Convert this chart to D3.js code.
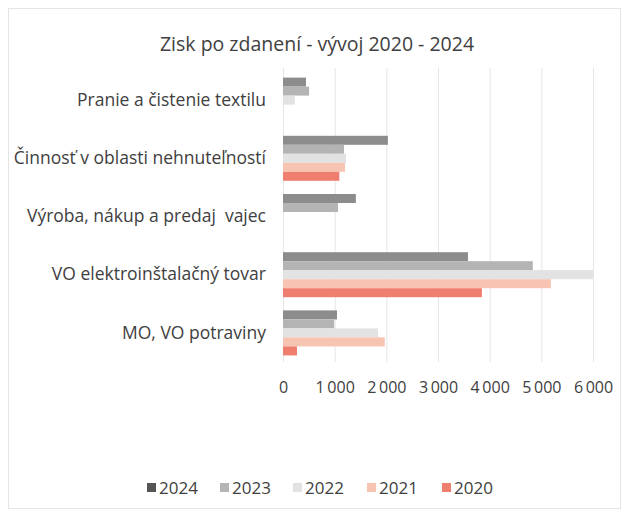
<!DOCTYPE html>
<html>
<head>
<meta charset="utf-8">
<script src="https://cdn.jsdelivr.net/npm/d3@7"></script>
<style>
	body { margin: 0; background: #fff; }
	svg text { font-family: "Open Sans", sans-serif; fill: #404040; white-space: pre; }
</style>
</head>
<body>
<svg id="chart" width="625" height="509"></svg>
<script>
const categories = ['Pranie a čistenie textilu', 'Činnosť v oblasti nehnuteľností', 'Výroba, nákup a predaj  vajec', 'VO elektroinštalačný tovar', 'MO, VO potraviny'];
const years = ['2024', '2023', '2022', '2021', '2020'];
const yearColors = ['#8c8c8c', '#b4b4b4', '#e2e2e2', '#f8c4b2', '#f07e6e'];
const values2024 = [445, 2030, 1410, 3580, 1045];
const values2023 = [505, 1180, 1065, 4835, 990];
const values2022 = [230, 1220, 0, 6000, 1840];
const values2021 = [0, 1200, 0, 5185, 1970];
const values2020 = [0, 1090, 0, 3850, 270];
const tickValues = [0, 1000, 2000, 3000, 4000, 5000, 6000];

const seriesValues = [values2024, values2023, values2022, values2021, values2020];

const svg = d3.select('#chart');

// outer frame
svg.append('rect')
	.attr('x', 8.5).attr('y', 8.5)
	.attr('width', 612).attr('height', 500)
	.attr('fill', 'none').attr('stroke', '#e4e4e4');

const x = d3.scaleLinear().domain([0, 6000]).range([283, 593]);
const y = d3.scaleBand().domain(categories).range([71, 362]);
const inner = d3.scaleBand().domain(years).range([0, 45]);
const bandPad = (y.bandwidth() - 45) / 2;

// gridlines
svg.append('g')
	.selectAll('line')
	.data(tickValues)
	.join('line')
	.attr('x1', (d)=>x(d) + 0.5).attr('x2', (d)=>x(d) + 0.5)
	.attr('y1', 68).attr('y2', 362)
	.attr('stroke', '#e6e6e6');

// bars
years.forEach(function(year, i){
	svg.append('g')
		.selectAll('rect')
		.data(seriesValues[i])
		.join('rect')
		.attr('x', x(0))
		.attr('y', (d, j)=>y(categories[j]) + bandPad + inner(year))
		.attr('width', (d)=>x(d) - x(0))
		.attr('height', inner.bandwidth())
		.attr('fill', yearColors[i]);
});

// category labels
const yAxis = svg.append('g')
	.attr('transform', 'translate(266,0)')
	.call(d3.axisLeft(y).tickSize(0).tickPadding(0));
yAxis.select('.domain').remove();
yAxis.selectAll('text')
	.style('font-size', '17.5px')
	.attr('fill', '#404040');

// value axis labels
const fmt = (d)=>d3.format(',')(d).replace(',', '\u2009');
const xAxis = svg.append('g')
	.attr('transform', 'translate(0,382)')
	.call(d3.axisBottom(x).tickValues(tickValues).tickSize(0).tickPadding(0).tickFormat(fmt));
xAxis.select('.domain').remove();
xAxis.selectAll('text')
	.style('font-size', '16px')
	.attr('fill', '#404040');

// title
svg.append('text')
	.attr('x', 317).attr('y', 51)
	.attr('text-anchor', 'middle')
	.style('font-size', '19.5px')
	.text('Zisk po zdanení - vývoj 2020 - 2024');

// legend
const legendX = [147, 220, 293, 367, 442];
const legend = svg.append('g');
years.forEach(function(year, i){
	legend.append('rect')
		.attr('x', legendX[i]).attr('y', 483)
		.attr('width', 9).attr('height', 9)
		.attr('fill', i == 0 ? '#555555' : yearColors[i]);
	legend.append('text')
		.attr('x', legendX[i] + 12).attr('y', 494)
		.style('font-size', '17px')
		.text(year);
});
</script>
</body>
</html>
